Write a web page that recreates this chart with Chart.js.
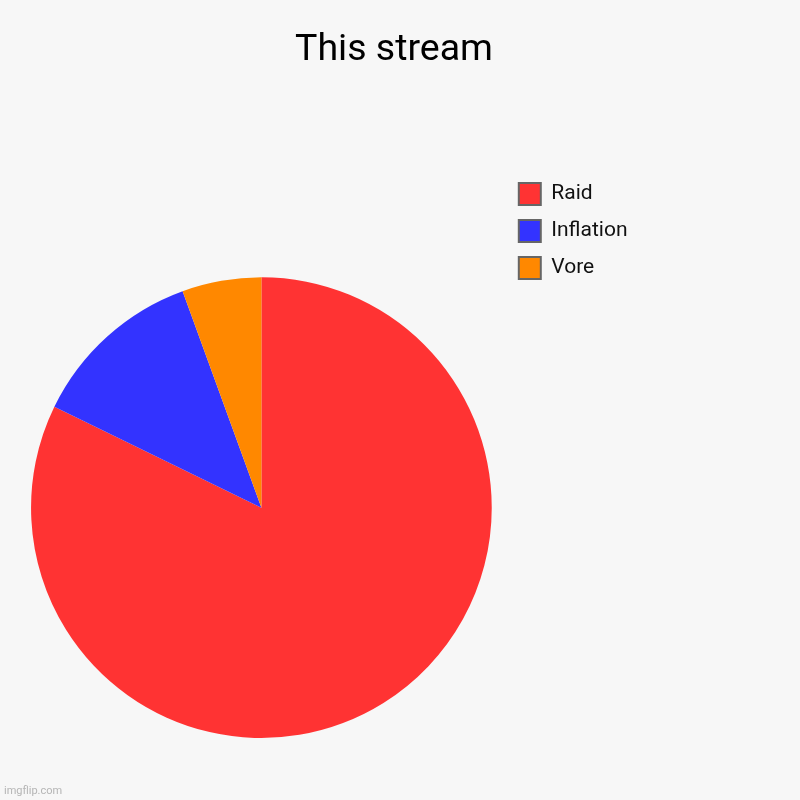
<!DOCTYPE html>
<html>
<head>
<meta charset="utf-8">
<script src="https://cdn.jsdelivr.net/npm/chart.js@4.4.1/dist/chart.umd.min.js"></script>
<style>
  html, body { margin: 0; padding: 0; background: #f7f7f7; }
  #wrap { position: relative; width: 800px; height: 800px; background: #f7f7f7; }
  #wm { position: absolute; left: 4px; top: 784px; font: 11px Roboto, sans-serif; color: #b5b5b5; line-height: 14px; }
</style>
</head>
<body>
<div id="wrap">
  <canvas id="c" width="800" height="800"></canvas>
  <div id="wm">imgflip.com</div>
</div>
<script>
const titleText = "This stream";
const categories = ["Raid", "Inflation", "Vore"];
const values = [74, 11, 5];
const colors = ["#ff3333", "#3333ff", "#ff8800"];

const legendWidthPlugin = {
  id: 'legendWidth',
  afterInit(chart) {
    const lg = chart.legend;
    if (!lg) return;
    const orig = lg.fit;
    lg.fit = function () {
      orig.call(this);
      this.width = 265.2;
    };
  }
};

new Chart(document.getElementById('c'), {
  type: 'pie',
  data: {
    labels: categories,
    datasets: [{
      data: values,
      backgroundColor: colors,
      borderWidth: 0,
      hoverOffset: 0
    }]
  },
  options: {
    responsive: false,
    animation: false,
    events: [],
    layout: { padding: { left: 19, right: 31, top: 0, bottom: 62 } },
    plugins: {
      title: {
        display: true,
        text: titleText,
        color: '#000000',
        font: { family: 'Roboto', size: 37.5, weight: 'normal', lineHeight: 1.2 },
        padding: { top: 28, bottom: 204.3 }
      },
      legend: {
        display: true,
        position: 'right',
        align: 'start',
        title: { display: true, text: '', font: { size: 12, lineHeight: 1.2 }, padding: { top: 153.5, bottom: 0 } },
        labels: {
          boxWidth: 22,
          boxHeight: 22,
          padding: 15,
          color: '#111111',
          font: { family: 'Roboto', size: 21 },
          generateLabels(chart) {
            const items = Chart.overrides.pie.plugins.legend.labels.generateLabels(chart);
            return items.map(it => Object.assign(it, { strokeStyle: '#666666', lineWidth: 2 }));
          }
        }
      },
      tooltip: { enabled: false }
    }
  },
  plugins: [legendWidthPlugin]
});
</script>
</body>
</html>
